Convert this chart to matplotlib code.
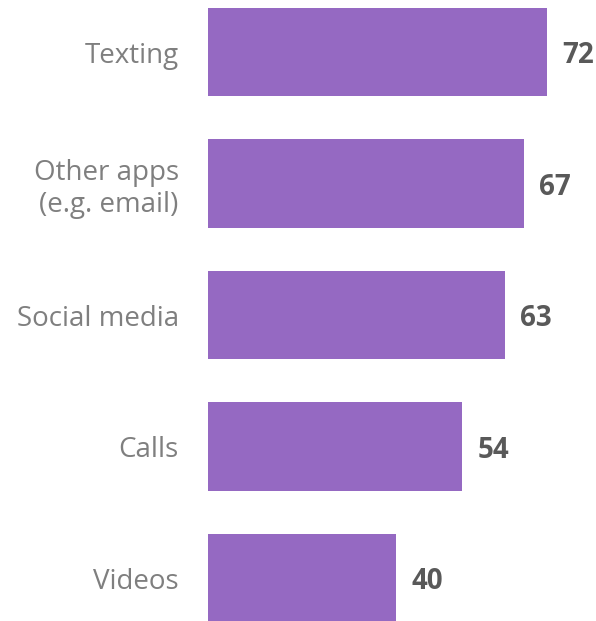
import matplotlib
matplotlib.use("Agg")
import matplotlib.pyplot as plt

categories = ["Texting", "Other apps\n(e.g. email)", "Social media", "Calls", "Videos"]
values = [72, 67, 63, 54, 40]

bar_color = "#9569C2"
W, H = 596, 621

fig = plt.figure(figsize=(W / 100, H / 100), dpi=100)
# axes spans from x=208px to the right edge, full height
ax = fig.add_axes([208 / W, 0, 1 - 208 / W, 1])

pos = list(range(len(categories)))
ax.barh(pos, values, height=0.67, color=bar_color)

ax.set_xlim(0, (W - 208) / 4.71)
ax.set_ylim((H - 52) / 131.5, -52 / 131.5)

for p, v in zip(pos, values):
    ax.text(v + 3.3, p + 0.03, str(v), ha="left", va="center",
            fontsize=20, fontweight="bold", color="#595959", family="Open Sans")

ax.set_yticks(pos)
ax.set_yticklabels(categories, fontsize=20, color="#7f7f7f", family="Open Sans",
                   ha="right", linespacing=1.2)
ax.tick_params(axis="y", length=0, pad=21)
ax.set_xticks([])
for s in ax.spines.values():
    s.set_visible(False)

fig.savefig("out.png", dpi=100)
